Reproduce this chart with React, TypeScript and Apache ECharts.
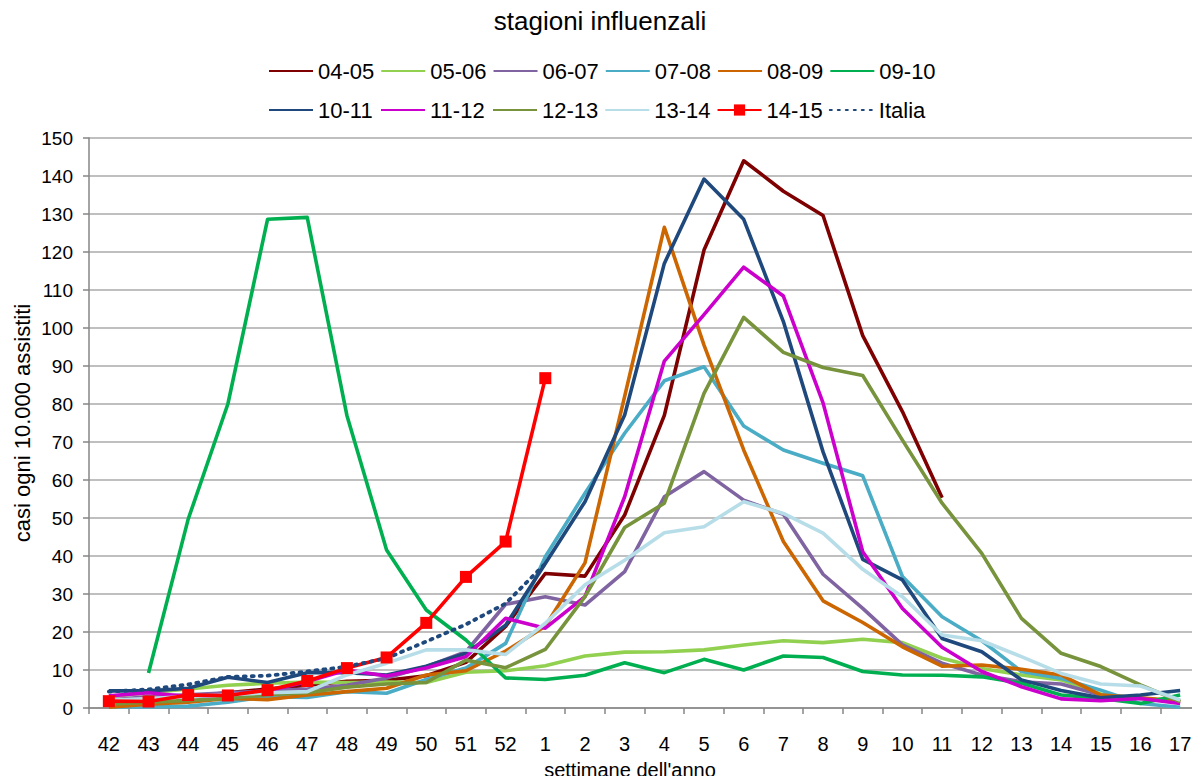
import React, { useEffect, useRef } from "react";
import * as echarts from "echarts";

const weeks = ["42","43","44","45","46","47","48","49","50","51","52","1","2","3","4","5","6","7","8","9","10","11","12","13","14","15","16","17"];
const yTicks = { min: 0, max: 150, interval: 10 };

const s0405 = [2, 2.5, 3, 4, 5, 6, 7, 7.3, 8.5, 12, 21.5, 35.4, 34.7, 50.8, 77, 120.5, 144, 136, 129.6, 98, 78, 55.3, null, null, null, null, null, null];
const s0506 = [3, 4, 5, 6, 6.5, 6.8, 6.7, 6.8, 6.7, 9.4, 9.8, 11.1, 13.7, 14.7, 14.8, 15.3, 16.6, 17.7, 17.2, 18.1, 17.2, 13.1, 10.4, 8.7, 7.4, 3.7, 2.5, 1.7];
const s0607 = [2, 3, 3.5, 4, 4.5, 5, 6, 7.9, 10.9, 14.8, 27.3, 29.3, 27.1, 35.9, 55.6, 62.2, 54.7, 51, 35.2, 26.2, 16.6, 11.8, 8.7, 6.9, 6.3, 3.4, 2.5, 1.7];
const s0708 = [0.3, 0.3, 0.5, 1.5, 3, 2.8, 4.3, 3.9, 7.5, 10.5, 17, 39.8, 56.5, 72.3, 86.1, 89.8, 74.2, 67.9, 64.4, 61.1, 34.6, 24, 17.7, 9.6, 7.8, 4.7, 1.2, 0.2];
const s0809 = [0.2, 1, 1.5, 2.5, 2.2, 3.4, 4.3, 5.2, 8.7, 9.8, 15, 21.5, 38.2, 82, 126.5, 95.5, 67.9, 43.8, 28.2, 22.5, 16.1, 11, 11.3, 10.2, 8.7, 3.4, 2.7, 1.8];
const s0910 = [null, 9.2, 49.7, 80, 128.6, 129.1, 77, 41.6, 25.8, 17.9, 7.9, 7.5, 8.6, 11.9, 9.3, 12.8, 10, 13.7, 13.3, 9.6, 8.7, 8.6, 8.2, 6.5, 3.4, 2.5, 1.2, 3.4];
const s1011 = [4.5, 4.5, 5.2, 8.1, 6.7, 9.3, 9.3, 8.7, 11, 14.4, 21.8, 38, 54.3, 77.1, 117, 139.2, 128.6, 101.7, 67.4, 39.1, 33.7, 18.3, 14.8, 7.4, 4.6, 2.7, 3.4, 4.6];
const s1112 = [3.2, 4, 3, 3.4, 4.5, 7, 10, 8.4, 10.5, 13.5, 23.6, 21, 29.3, 55.6, 91.3, 103.5, 116, 108.4, 80.3, 41.1, 26.2, 16, 9.6, 5.6, 2.4, 1.9, 2.5, 1.2];
const s1213 = [1, 1.5, 2, 2.5, 3.5, 4, 5.5, 6.3, 6.7, 12.6, 10.6, 15.4, 29.3, 47.5, 53.9, 82.8, 102.8, 93.6, 89.6, 87.5, 70.5, 53.9, 40.7, 23.6, 14.4, 10.9, 6.1, 1.7];
const s1314 = [2, 2.5, 3, 3.5, 4, 4.3, 8.7, 11.8, 15.3, 15.3, 14.1, 22.3, 32.4, 38.9, 46.1, 47.7, 54.3, 51.2, 46, 36.5, 29.3, 19.2, 17.7, 13.5, 9.1, 6.3, 5.8, 2.1];
const s1415 = [1.8, 1.7, 3.4, 3.3, 4.7, 7.1, 10.5, 13.3, 22.4, 34.5, 43.8, 86.8, null, null, null, null, null, null, null, null, null, null, null, null, null, null, null, null];
const italia = [4.3, 4.9, 6.2, 8.2, 8.5, 9.6, 10.9, 13.1, 17.5, 22, 27.5, 38, null, null, null, null, null, null, null, null, null, null, null, null, null, null, null, null];

const seasonNames = ["04-05","05-06","06-07","07-08","08-09","09-10","10-11","11-12","12-13","13-14","14-15","Italia"];
const seasonData = [s0405, s0506, s0607, s0708, s0809, s0910, s1011, s1112, s1213, s1314, s1415, italia];
const seasonColors = ["#7F0000","#92D050","#8064A2","#4BACC6","#CC6600","#00B050","#1F497D","#CC00CC","#77933C","#B7DEE8","#FF0000","#1F497D"];

const FONT = "'Liberation Sans', Arial, sans-serif";

export default function App() {
  const ref = useRef<HTMLDivElement>(null);
  useEffect(() => {
    if (!ref.current) return;
    const chart = echarts.init(ref.current, null, { renderer: "svg" });
    const series = seasonNames.map((name, i) => {
      const isRed = name === "14-15";
      const isItalia = name === "Italia";
      return {
        name,
        type: "line",
        data: seasonData[i],
        connectNulls: false,
        symbol: isRed ? "rect" : "none",
        symbolSize: isRed ? 12 : 0,
        showSymbol: isRed,
        itemStyle: { color: seasonColors[i] },
        lineStyle: {
          color: seasonColors[i],
          width: isItalia ? 3.8 : 3.6,
          type: isItalia ? [2, 6] : "solid",
          cap: isItalia ? "round" : "butt",
          join: "round",
        },
        z: isRed || isItalia ? 3 : 2,
      };
    });
    const legendData = (names: string[]) =>
      names.map((n) => (n === "14-15" ? { name: n } : { name: n, itemStyle: { opacity: 0 } }));
    const legendCommon = {
      orient: "horizontal",
      left: 268,
      itemWidth: 44,
      itemHeight: 14,
      itemGap: 6,
      padding: 0,
      textStyle: { fontFamily: FONT, fontSize: 22, color: "#000", width: 56, lineHeight: 26 },
    };
    chart.setOption({
      animation: false,
      backgroundColor: "#fff",
      title: {
        text: "stagioni influenzali",
        left: "center",
        top: 3,
        textStyle: { fontFamily: FONT, fontSize: 26, fontWeight: "normal", color: "#000" },
      },
      legend: [
        { ...legendCommon, top: 58, data: legendData(seasonNames.slice(0, 6)) },
        { ...legendCommon, top: 97, data: legendData(seasonNames.slice(6)) },
      ],
      grid: { left: 89, top: 138, width: 1113, height: 570 },
      xAxis: {
        type: "category",
        data: weeks,
        boundaryGap: true,
        axisLine: { lineStyle: { color: "#868686", width: 1.5 } },
        axisTick: { show: true, length: 6, lineStyle: { color: "#868686", width: 1.5 } },
        axisLabel: { fontFamily: FONT, fontSize: 20, color: "#000", margin: 26 },
        splitLine: { show: false },
      },
      yAxis: {
        type: "value",
        min: yTicks.min,
        max: yTicks.max,
        interval: yTicks.interval,
        axisLine: { show: true, lineStyle: { color: "#868686", width: 1.5 } },
        axisTick: { show: true, length: 6, lineStyle: { color: "#868686", width: 1.5 } },
        axisLabel: { fontFamily: FONT, fontSize: 19, color: "#000", margin: 16 },
        splitLine: { lineStyle: { color: "#AAAAAA", width: 1.5 } },
      },
      graphic: [
        {
          type: "text",
          x: 630,
          y: 770,
          style: { text: "settimane dell'anno", font: `20px ${FONT}`, fill: "#000", textAlign: "center", textVerticalAlign: "middle" },
        },
        {
          type: "text",
          x: 22,
          y: 423,
          rotation: Math.PI / 2,
          style: { text: "casi ogni 10.000 assistiti", font: `22px ${FONT}`, fill: "#000", textAlign: "center", textVerticalAlign: "middle" },
        },
      ],
      series,
    });
    return () => chart.dispose();
  }, []);
  return <div ref={ref} style={{ width: 1200, height: 784, margin: -8 }} />;
}
